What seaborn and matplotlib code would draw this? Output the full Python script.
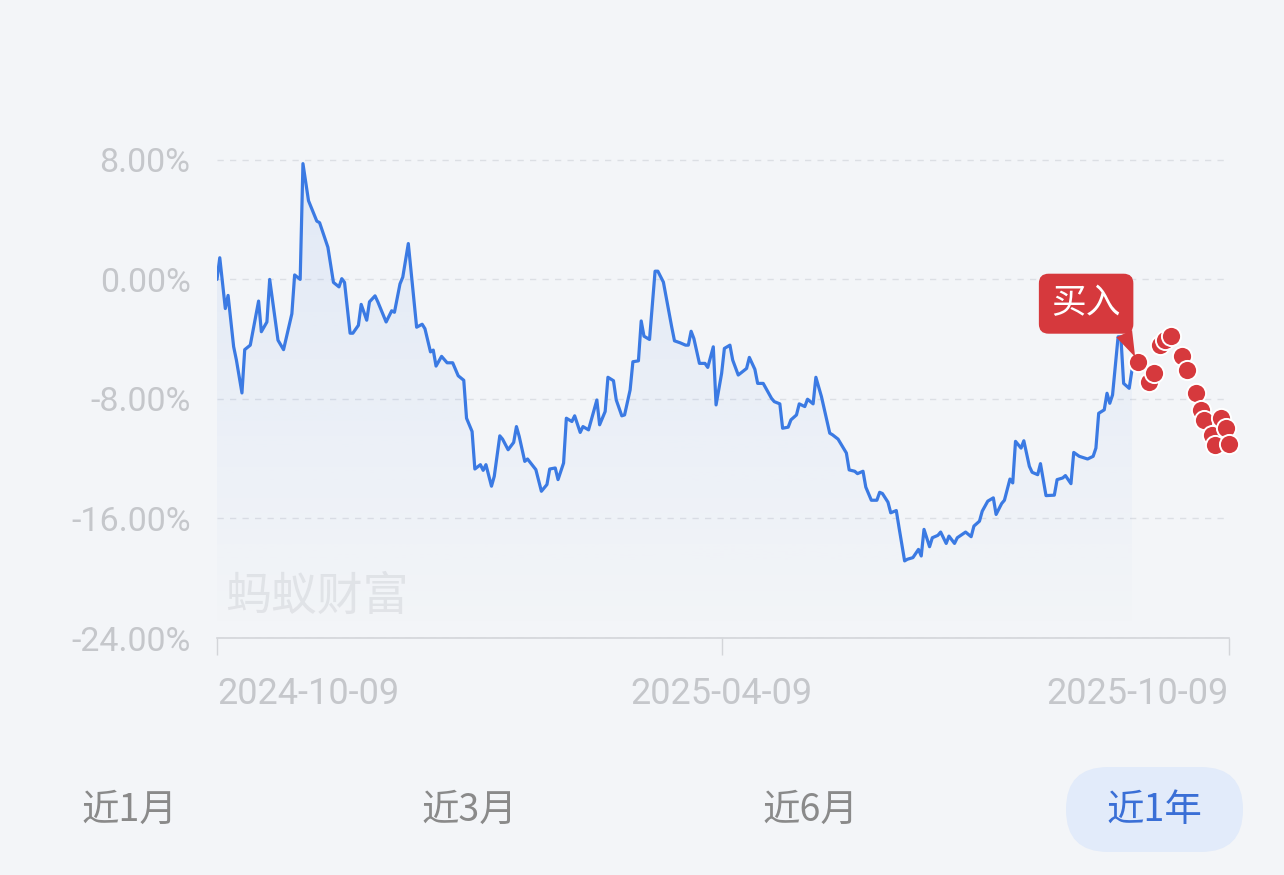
"""Fund return curve (近1年) with buy markers."""

import matplotlib

matplotlib.use("Agg")
import matplotlib.dates as mdates
import matplotlib.pyplot as plt
import numpy as np
import pandas as pd
import seaborn as sns
from matplotlib.colors import to_rgb
from matplotlib.patches import FancyBboxPatch
from matplotlib.transforms import IdentityTransform

START = "2024-10-09"

# days since START and cumulative return (%)
line_days = [
    0, 1, 3, 4, 6, 7, 9, 10, 12, 15,
    16, 18, 19, 22, 24, 27, 28, 30, 31, 33,
    36, 37, 40, 42, 44, 45, 46, 48, 49, 51,
    52, 54, 55, 57, 58, 60, 61, 63, 64, 66,
    67, 69, 72, 74, 75, 77, 78, 79, 81, 83,
    85, 87, 89, 90, 92, 93, 95, 96, 97, 99,
    100, 102, 103, 105, 107, 108, 109, 111, 112, 115,
    117, 119, 120, 122, 123, 125, 126, 128, 129, 131,
    132, 134, 135, 137, 138, 140, 141, 143, 144, 146,
    147, 149, 150, 152, 153, 154, 156, 158, 159, 161,
    162, 164, 165, 167, 169, 170, 171, 172, 174, 176,
    177, 179, 180, 182, 183, 185, 186, 188, 191, 192,
    194, 195, 197, 200, 201, 203, 204, 206, 207, 209,
    210, 212, 213, 215, 216, 218, 221, 222, 224, 227,
    228, 230, 231, 233, 234, 236, 238, 239, 240, 242,
    243, 245, 246, 248, 249, 251, 253, 254, 255, 257,
    258, 260, 261, 263, 264, 266, 267, 270, 272, 273,
    275, 276, 278, 280, 281, 283, 284, 286, 287, 288,
    290, 291, 293, 294, 296, 297, 299, 302, 303, 305,
    306, 308, 309, 311, 314, 316, 317, 318, 320, 321,
    322, 323, 325, 326, 327, 329, 330,
]
line_values = [
    0.0, 1.45, -1.95, -1.07, -4.5, -5.4, -7.6, -4.7, -4.4, -1.45,
    -3.5, -2.85, 0.0, -4.07, -4.7, -2.3, 0.3, 0.0, 7.75, 5.27,
    3.9, 3.8, 2.15, -0.2, -0.5, 0.05, -0.2, -3.6, -3.6, -3.07,
    -1.67, -2.73, -1.5, -1.1, -1.5, -2.4, -2.85, -2.1, -2.2, -0.3,
    0.15, 2.4, -3.2, -3.0, -3.3, -4.85, -4.73, -5.8, -5.15, -5.58,
    -5.58, -6.45, -6.75, -9.29, -10.18, -12.69, -12.4, -12.78, -12.4, -13.84,
    -13.18, -10.47, -10.69, -11.4, -10.91, -9.85, -10.51, -12.18, -12.02, -12.73,
    -14.18, -13.73, -12.69, -12.62, -13.4, -12.29, -9.29, -9.51, -9.13, -10.24,
    -9.85, -10.07, -9.4, -8.07, -9.73, -8.84, -6.55, -6.78, -8.07, -9.13,
    -9.07, -7.4, -5.51, -5.45, -2.78, -3.8, -4.02, 0.55, 0.55, -0.18,
    -1.18, -3.18, -4.11, -4.24, -4.4, -4.4, -3.47, -3.96, -5.62, -5.62,
    -5.89, -4.51, -8.4, -6.29, -4.62, -4.4, -5.4, -6.4, -5.96, -5.22,
    -6.02, -6.96, -6.96, -7.96, -8.18, -8.33, -9.96, -9.89, -9.4, -9.07,
    -8.33, -8.51, -8.02, -8.33, -6.55, -7.84, -10.29, -10.4, -10.69, -11.62,
    -12.75, -12.84, -13.0, -12.84, -13.9, -14.78, -14.78, -14.25, -14.33, -14.91,
    -15.62, -15.47, -16.62, -18.84, -18.73, -18.62, -18.07, -18.51, -16.73, -17.89,
    -17.29, -17.13, -16.91, -17.67, -17.18, -17.67, -17.29, -16.91, -17.22, -16.51,
    -16.18, -15.51, -14.84, -14.62, -15.73, -15.0, -14.78, -13.36, -13.62, -10.84,
    -11.29, -10.8, -12.51, -12.91, -13.07, -12.33, -14.47, -14.44, -13.4, -13.29,
    -13.13, -13.67, -11.58, -11.84, -12.02, -11.84, -11.29, -8.96, -8.73, -7.62,
    -8.29, -7.73, -3.84, -3.84, -6.96, -7.29, -6.07,
]

buy_days = [332, 336, 338, 340, 342, 344, 348, 350, 353, 355, 356, 359, 360, 362, 364, 365]
buy_values = [-5.53, -6.87, -6.27, -4.4, -4.07, -3.8, -5.13, -6.07,
              -7.6, -8.73, -9.4, -10.4, -11.07, -9.27, -9.93, -11.0]
buy_label = "买入"

x_tick_dates = ["2024-10-09", "2025-04-09", "2025-10-09"]
y_tick_values = [8, 0, -8, -16, -24]
range_tabs = ["近1月", "近3月", "近6月", "近1年"]
active_tab = "近1年"
watermark = "蚂蚁财富"

BG = "#f3f5f8"
LINE = "#3b7ae3"
RED = "#d6393d"
GRID = "#dcdfe4"
TICK_TEXT = "#c5c7cb"
CJK = ["Noto Sans CJK SC", "DejaVu Sans"]

sns.set_theme(style="white")
plt.rcParams["font.family"] = ["Roboto", "Noto Sans CJK SC", "DejaVu Sans"]
plt.rcParams["axes.unicode_minus"] = False

start = pd.Timestamp(START)
line = pd.DataFrame({
    "date": start + pd.to_timedelta(line_days, unit="D"),
    "ret": line_values,
})
buys = pd.DataFrame({
    "date": start + pd.to_timedelta(buy_days, unit="D"),
    "ret": buy_values,
})

fig = plt.figure(figsize=(12.84, 8.75), dpi=100, facecolor=BG)
ax = fig.add_axes([217 / 1284, 237 / 875, 1012 / 1284, 508 / 875])
ax.set_facecolor(BG)

y_low, y_high = -24, 10
x_num = mdates.date2num(line["date"])
x_lo = mdates.date2num(pd.Timestamp(x_tick_dates[0]))
x_hi = mdates.date2num(pd.Timestamp(x_tick_dates[-1]))

# gradient area under the curve
area = ax.fill_between(x_num, line["ret"], y_low, color="none", linewidth=0)
grad = np.zeros((256, 1, 4))
grad[..., :3] = to_rgb("#5f8fe6")
grad[:, 0, 3] = np.linspace(0.12, 0.0, 256)
im = ax.imshow(grad, aspect="auto", origin="upper", zorder=1,
               extent=[x_num[0], x_num[-1], y_low, max(line_values)])
im.set_clip_path(area.get_paths()[0], ax.transData)

sns.lineplot(data=line, x="date", y="ret", ax=ax, color=LINE, linewidth=2.3, zorder=3)
sns.scatterplot(data=buys, x="date", y="ret", ax=ax, s=190, color=RED,
                edgecolor="white", linewidth=1.4, zorder=5, clip_on=False)

ax.annotate(
    buy_label,
    xy=(buys["date"].iloc[0], buys["ret"].iloc[0]),
    xytext=(-37, 42), textcoords="offset points",
    ha="center", va="center", color="white", fontsize=25, family=CJK,
    bbox=dict(boxstyle="round,pad=0.36,rounding_size=0.28", fc=RED, ec="none"),
    arrowprops=dict(arrowstyle="wedge,tail_width=0.5,shrink_factor=0.5",
                    fc=RED, ec="none", relpos=(0.94, 0.1), shrinkA=0, shrinkB=4),
    zorder=6,
)

ax.text(0.008, 0.081, watermark, transform=ax.transAxes, fontsize=33,
        color="#e2e4e8", family=CJK, ha="left", va="center", zorder=0)

ax.set_xlim(x_lo, x_hi)
ax.set_ylim(y_low, y_high)
ax.set_xlabel("")
ax.set_ylabel("")

ax.set_yticks(y_tick_values)
ax.set_yticklabels([f"{v:.2f}%" for v in y_tick_values])
ax.tick_params(axis="y", length=0, pad=19, labelsize=24.5, labelcolor=TICK_TEXT)
ax.yaxis.grid(True, color=GRID, linestyle=(0, (4.5, 4.5)), linewidth=1.0)
ax.xaxis.grid(False)

ax.set_xticks(mdates.date2num(pd.to_datetime(x_tick_dates)))
ax.set_xticklabels(x_tick_dates)
ax.tick_params(axis="x", length=12, width=1, color="#d3d5d9", pad=15,
               labelsize=26, labelcolor=TICK_TEXT, bottom=True)
labels = ax.get_xticklabels()
labels[0].set_ha("left")
labels[-1].set_ha("right")

for side in ("top", "left", "right"):
    ax.spines[side].set_visible(False)
ax.spines["bottom"].set_color("#d3d5d9")
ax.spines["bottom"].set_linewidth(1.2)

# period tabs under the chart
tab_x = [129, 469, 810, 1154]
pill = FancyBboxPatch((1066, 23), 177, 85, boxstyle="round,pad=0,rounding_size=42",
                      transform=IdentityTransform(), fc="#e2ebfa", ec="none")
fig.patches.append(pill)
for name, xpos in zip(range_tabs, tab_x):
    fig.text(xpos / 1284, 1 - 810 / 875, name, ha="center", va="center",
             fontsize=27, family=CJK,
             color="#3a6fd6" if name == active_tab else "#8a8a8a")

fig.savefig("out.png", dpi=100, facecolor=fig.get_facecolor())
plt.close(fig)
